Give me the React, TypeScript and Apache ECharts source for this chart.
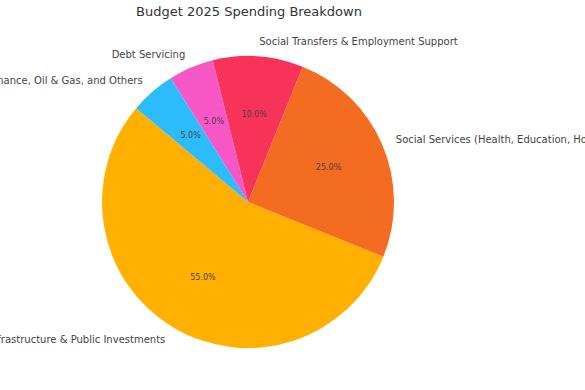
import React, { useEffect, useRef } from "react";
import * as echarts from "echarts";

const categories = [
  "Infrastructure & Public Investments",
  "Social Services (Health, Education, Housing)",
  "Social Transfers & Employment Support",
  "Debt Servicing",
  "Governance, Oil & Gas, and Others",
];
const shares = [55, 25, 10, 5, 5];
const colors = ["#FFB000", "#F46B22", "#F7335A", "#F857C6", "#2CBCFC"];
const titleText = "Budget 2025 Spending Breakdown";

export default function App() {
  const ref = useRef<HTMLDivElement>(null);
  useEffect(() => {
    document.body.style.margin = "0";
    const chart = echarts.init(ref.current!, null, { renderer: "svg" });
    const R = 146;
    const data = categories.map((name, i) => ({
      name,
      value: shares[i],
      itemStyle: { color: colors[i] },
    }));
    const font = "DejaVu Sans";
    chart.setOption({
      animation: false,
      backgroundColor: "#ffffff",
      title: {
        text: titleText,
        left: 244,
        textAlign: "center",
        top: 0,
        textStyle: { fontFamily: font, fontSize: 13, fontWeight: "normal", color: "#333333" },
      },
      series: [
        {
          type: "pie",
          center: [248, 202],
          radius: [0, R],
          startAngle: 140,
          clockwise: false,
          avoidLabelOverlap: false,
          silent: true,
          itemStyle: { borderWidth: 0 },
          label: {
            show: true,
            position: "outside",
            formatter: "{b}",
            fontFamily: font,
            fontSize: 10,
            color: "#444444",
            distanceToLabelLine: 0,
            padding: [2, 0, 0, 0],
          },
          labelLine: { show: false, length: R * 0.1, length2: 0 },
          data,
        },
        {
          type: "pie",
          center: [248, 202],
          radius: [23, R],
          startAngle: 140,
          clockwise: false,
          avoidLabelOverlap: false,
          silent: true,
          itemStyle: { color: "rgba(0,0,0,0)", borderWidth: 0 },
          label: {
            show: true,
            position: "inside",
            formatter: (p: any) => Number(p.value).toFixed(1) + "%",
            fontFamily: font,
            fontSize: 8,
            color: "#444444",
          },
          labelLine: { show: false },
          data: categories.map((name, i) => ({ name, value: shares[i] })),
        },
      ],
    });
    return () => chart.dispose();
  }, []);
  return (
    <div
      ref={ref}
      style={{ position: "absolute", left: 0, top: 0, width: 585, height: 390 }}
    />
  );
}
